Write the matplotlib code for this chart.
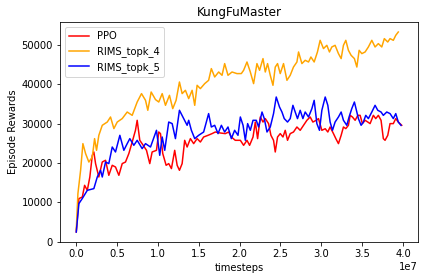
import numpy as np
import matplotlib
matplotlib.use("Agg")
import matplotlib.pyplot as plt

# x values in units of 1e7 timesteps
ppo_x = [0.002, 0.034, 0.076, 0.104, 0.137, 0.168, 0.198, 0.217, 0.238, 0.278, 0.320, 0.360, 0.400, 0.442,
         0.482, 0.523, 0.564, 0.604, 0.645, 0.686, 0.726, 0.747, 0.779, 0.821, 0.861, 0.901, 0.930, 0.983,
         1.011, 1.032, 1.060, 1.101, 1.133, 1.166, 1.206, 1.236, 1.264, 1.297, 1.328, 1.358, 1.398, 1.438,
         1.480, 1.520, 1.560, 1.614, 1.663, 1.703, 1.764, 1.825, 1.866, 1.899, 1.947, 1.988, 2.009, 2.049,
         2.090, 2.122, 2.164, 2.192, 2.220, 2.253, 2.286, 2.314, 2.354, 2.383, 2.415, 2.436, 2.464, 2.497,
         2.530, 2.558, 2.586, 2.619, 2.659, 2.701, 2.741, 2.782, 2.823, 2.863, 2.896, 2.937, 2.965, 3.006,
         3.047, 3.079, 3.107, 3.148, 3.177, 3.209, 3.242, 3.270, 3.299, 3.331, 3.352, 3.380, 3.413, 3.446,
         3.474, 3.502, 3.535, 3.568, 3.596, 3.636, 3.665, 3.697, 3.730, 3.758, 3.779, 3.812, 3.840, 3.880,
         3.910, 3.941, 3.983]
ppo_y = [2500, 10960, 11370, 14340, 13070, 16450, 21950, 22800, 19850, 16450, 20250, 20690, 16880, 19420,
         18980, 16880, 19850, 20250, 22390, 25330, 28300, 30840, 25760, 24490, 23220, 19850, 22800, 23220,
         27870, 27460, 22390, 19420, 19850, 18580, 23220, 19420, 18150, 19850, 25760, 24060, 26190, 24920,
         26190, 25330, 26600, 27030, 27460, 27870, 27620, 27460, 27870, 26600, 25760, 25760, 25760, 24490,
         25760, 24490, 26600, 30400, 26190, 31680, 30400, 31270, 30000, 27030, 25760, 22800, 26600, 27460,
         26600, 28300, 25760, 27460, 27870, 29140, 28300, 29570, 30840, 31680, 30400, 30840, 31270, 28300,
         28700, 27870, 29140, 27460, 26190, 24920, 27030, 29140, 28730, 29570, 32100, 31680, 30840, 32100,
         32100, 30000, 30840, 30400, 30000, 32100, 31270, 32100, 30840, 26190, 25760, 27030, 30000, 30000,
         31270, 30400, 29570]

topk4_x = [0.002, 0.022, 0.055, 0.083, 0.116, 0.156, 0.198, 0.226, 0.250, 0.278, 0.320, 0.381, 0.421, 0.462,
           0.503, 0.564, 0.625, 0.686, 0.747, 0.800, 0.849, 0.877, 0.918, 0.971, 1.011, 1.053, 1.093, 1.142,
           1.182, 1.223, 1.264, 1.297, 1.337, 1.377, 1.419, 1.451, 1.480, 1.520, 1.573, 1.621, 1.654, 1.695,
           1.744, 1.785, 1.817, 1.858, 1.907, 1.968, 2.021, 2.049, 2.090, 2.131, 2.171, 2.212, 2.244, 2.286,
           2.314, 2.342, 2.375, 2.408, 2.436, 2.464, 2.497, 2.537, 2.579, 2.619, 2.659, 2.701, 2.721, 2.762,
           2.802, 2.843, 2.872, 2.912, 2.952, 2.985, 3.026, 3.067, 3.099, 3.128, 3.168, 3.209, 3.242, 3.270,
           3.299, 3.331, 3.364, 3.404, 3.434, 3.462, 3.495, 3.535, 3.575, 3.617, 3.657, 3.697, 3.739, 3.770,
           3.812, 3.840, 3.880, 3.910, 3.941]
topk4_y = [3000, 12230, 18150, 24920, 22390, 20250, 21520, 26190, 23220, 27030, 29570, 30400, 31680, 28730,
           30400, 31270, 32940, 32100, 35480, 37610, 35910, 33380, 38020, 36100, 35480, 37610, 34640, 37180,
           33800, 35910, 40560, 37610, 38450, 36340, 38450, 34640, 39720, 38880, 40150, 40990, 43960, 41830,
           43100, 42260, 45230, 42260, 43100, 42690, 42700, 43530, 45640, 43100, 40150, 45230, 43530, 46500,
           43100, 45230, 42260, 39720, 44360, 45230, 42690, 45230, 40990, 42260, 44360, 45640, 48180, 45230,
           46070, 45640, 46910, 45640, 48180, 51140, 49040, 49870, 48180, 49450, 49870, 47760, 46500, 49870,
           51140, 48600, 47330, 46500, 44360, 48600, 47760, 48180, 49450, 51140, 49450, 50300, 49450, 51570,
           50710, 51570, 51140, 52410, 53250]

topk5_x = [0.002, 0.034, 0.076, 0.137, 0.217, 0.259, 0.299, 0.320, 0.360, 0.400, 0.442, 0.482, 0.535, 0.584,
           0.625, 0.657, 0.706, 0.747, 0.808, 0.849, 0.910, 0.983, 1.023, 1.053, 1.084, 1.133, 1.175, 1.215,
           1.264, 1.316, 1.358, 1.377, 1.410, 1.451, 1.499, 1.560, 1.621, 1.654, 1.695, 1.736, 1.777, 1.817,
           1.858, 1.899, 1.939, 1.980, 2.009, 2.042, 2.070, 2.098, 2.131, 2.164, 2.204, 2.232, 2.274, 2.302,
           2.335, 2.375, 2.415, 2.448, 2.488, 2.518, 2.546, 2.586, 2.619, 2.652, 2.680, 2.708, 2.741, 2.774,
           2.802, 2.843, 2.884, 2.912, 2.945, 2.977, 3.006, 3.047, 3.079, 3.107, 3.136, 3.168, 3.209, 3.242,
           3.270, 3.311, 3.339, 3.372, 3.404, 3.434, 3.453, 3.486, 3.514, 3.543, 3.575, 3.617, 3.657, 3.690,
           3.730, 3.758, 3.800, 3.840, 3.880, 3.910, 3.941, 3.974]
topk5_y = [2490, 9700, 11000, 13070, 13500, 16450, 18150, 16450, 20250, 19850, 24060, 22800, 27030, 23220,
           24920, 26190, 24490, 25760, 23650, 24920, 24060, 28300, 21950, 26600, 23220, 30400, 30000, 26190,
           33380, 31270, 29570, 30840, 28300, 26190, 27030, 27870, 32540, 29140, 29570, 27460, 29570, 27870,
           29140, 26190, 28300, 27030, 31680, 29570, 25760, 30000, 28300, 30840, 30840, 29140, 32940, 31270,
           27870, 29140, 32540, 36750, 34210, 32940, 31270, 30400, 31270, 34640, 32940, 31270, 33380, 31270,
           32940, 31680, 33800, 35910, 30000, 28300, 33380, 36750, 34640, 30400, 28300, 30400, 31680, 32940,
           30840, 29570, 31680, 33800, 35480, 32940, 31270, 29570, 30400, 32100, 31270, 32940, 34640, 33380,
           32940, 32100, 32940, 32540, 31270, 32540, 30400, 29570]

labels = ["PPO", "RIMS_topk_4", "RIMS_topk_5"]
colors = ["red", "orange", "blue"]

fig = plt.figure(figsize=(424 / 72, 280 / 72), dpi=72)
ax = fig.add_axes([60 / 424, 1 - 242 / 280, 358 / 424, 220 / 280])

series = [(ppo_x, ppo_y), (topk4_x, topk4_y), (topk5_x, topk5_y)]
for (xs, ys), lab, c in zip(series, labels, colors):
    ax.plot(np.array(xs) * 1e7, ys, color=c, label=lab, linewidth=1.5)

ax.set_title("KungFuMaster")
ax.set_xlabel("timesteps")
ax.set_ylabel("Episode Rewards")
ax.legend(loc="upper left")

fig.savefig("out.png", dpi=72)
